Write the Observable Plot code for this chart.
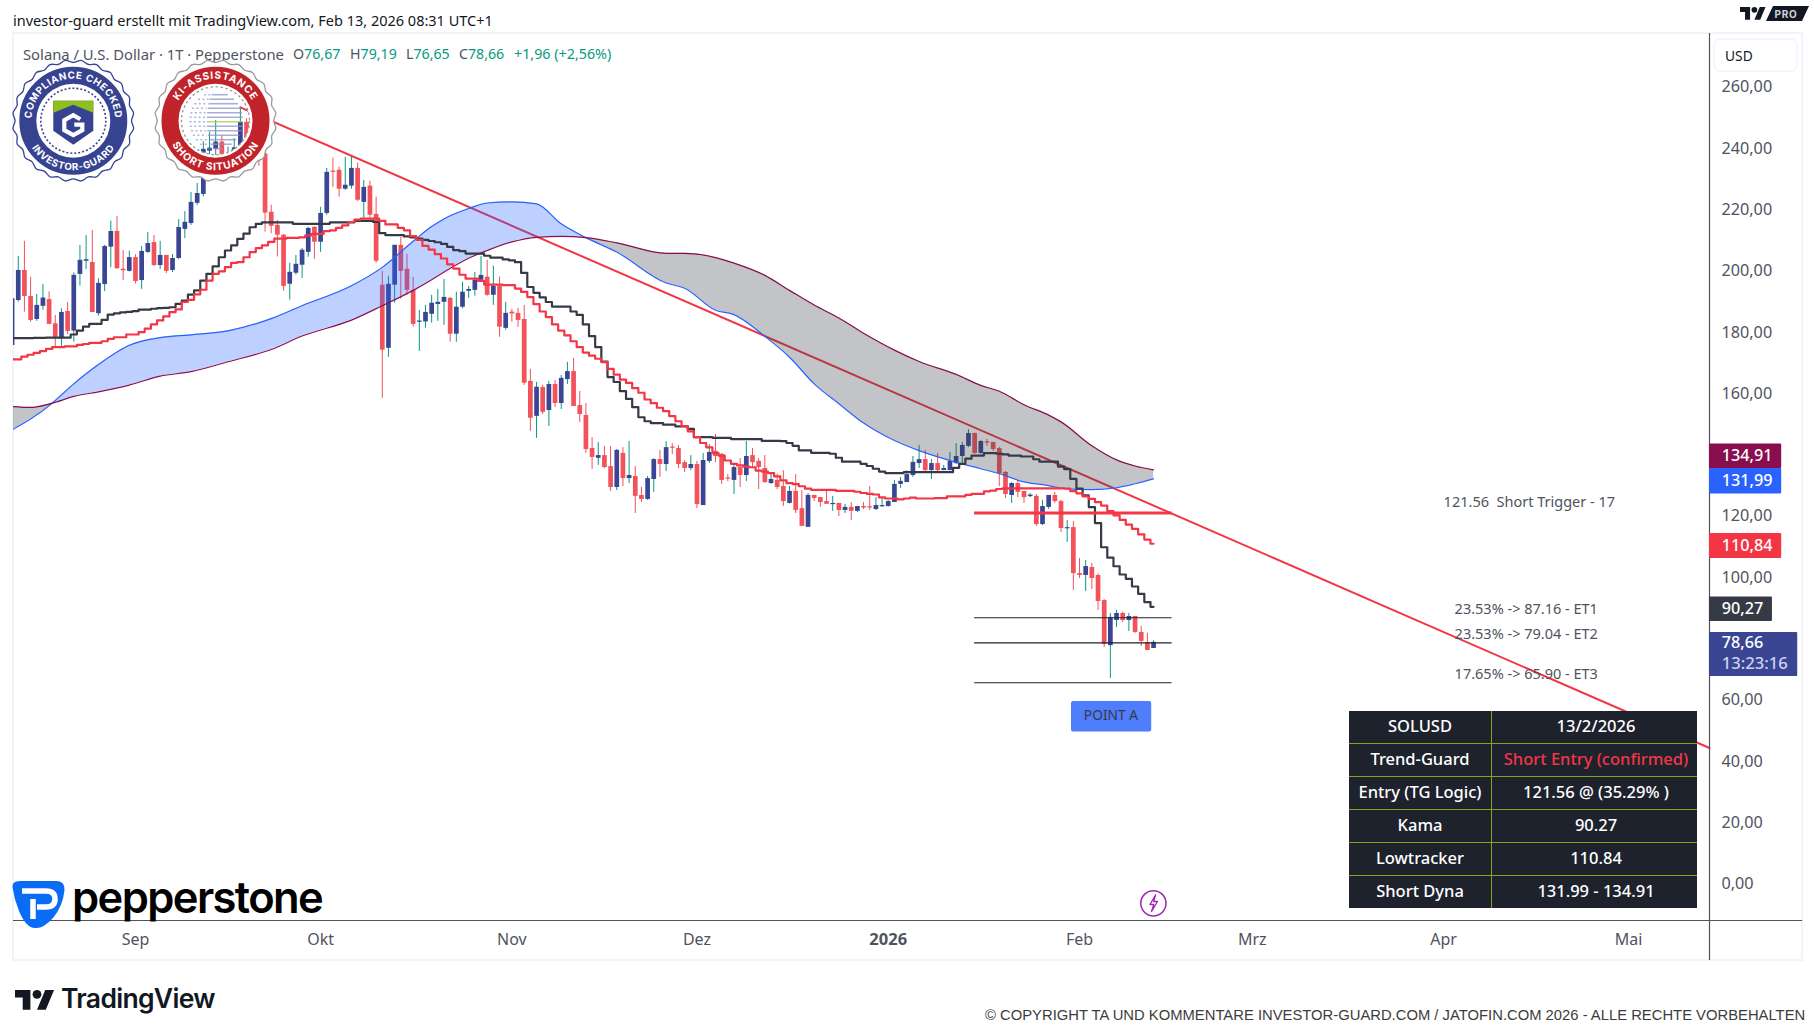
<!DOCTYPE html>
<html lang="de">
<head>
<meta charset="utf-8">
<title>Solana / U.S. Dollar</title>
<script src="https://cdn.jsdelivr.net/npm/d3@7"></script>
<script src="https://cdn.jsdelivr.net/npm/@observablehq/plot@0.6"></script>
<style>
html,body{margin:0;padding:0;background:#fff;}
#page{position:relative;width:1814px;height:1035px;overflow:hidden;font-family:"Noto Sans",sans-serif;}
#page svg{position:absolute;left:0;top:0;}
.t{position:absolute;white-space:pre;line-height:1;}
#tbl{position:absolute;left:1349px;top:711px;width:348px;height:197px;border-collapse:collapse;table-layout:fixed;background:#1e222d;color:#fff;font-size:16.5px;font-weight:500;}
#tbl td{border:1px solid #7fa61c;text-align:center;padding:0 0 4px 0;height:28px;}
#tbl td:last-child{padding-left:3px;}
#tbl tr:first-child td{border-top:none;}#tbl tr:last-child td{border-bottom:none;}
#tbl td:first-child{border-left:none;width:142px;}#tbl td:last-child{border-right:none;}
</style>
</head>
<body>
<div id="page"></div>
<script>
// --- candles: day offsets from 2025-09-01, first candle is offset -20 -----------------
const firstOffset = -20;
const opens = [175.5,190.2,200,191.5,184,188.3,190.5,182.6,177.7,186.6,
180.2,198.7,203,202.6,185.9,195.4,207.6,212.7,200.4,199.7,
204.2,196.7,205.9,209.1,201.6,204.9,200,203.9,213.4,215.3,
221.9,224.8,238.9,239.5,241.9,236.2,238,238.5,248.3,238.2,
245,238,219,214.7,211.5,195.5,199.1,201.7,205.9,214.1,
209.2,218.6,232.4,232.7,226.5,227.5,233.3,222.2,227.5,218.3,
195.2,174.6,195.2,208.2,200.4,193.5,183.1,183.2,185.7,188.9,
189.6,190.9,179.2,188,193.2,193.5,196.8,197.8,191.9,194.8,
181.1,186.4,186,184,163.8,152.4,161.8,154.3,162.8,156.6,
164.4,167,155.9,152.7,141.9,138.7,139.6,136,129.2,140.3,
132.1,132.8,126.6,125.3,131.8,138.3,136.7,142.4,141.9,137.3,
135.4,136.7,123.3,137.7,141,140,132.3,131.5,135.7,133.1,
139.6,137.7,135.4,130.5,131.5,129.5,124,127.9,122.3,116.2,
126.6,125.9,124.6,123.6,124,121.7,122.7,121.4,123,122.9,
122,122.9,123,124.3,130.2,130.8,133.1,137,138.3,134.7,
137,134.7,134.7,137,139.3,142.6,146.8,140.3,144.1,143.9,
141.9,134.1,126.6,130.5,127.9,126.2,126.3,117.1,122.7,126.6,
124.6,115.7,116.1,101.1,100.5,103.1,100.5,92.3,77.6,85.8,
88.1,85.8,87.1,81.9,78.6,76.67];
const closes = [190.8,200,191.5,183.7,188.6,191,182.4,178.2,186.3,180.1,
198.4,203.3,203.5,186.3,195.8,207.8,212.7,200.6,199.9,204.2,
196.4,206.2,208.8,201.6,204.9,199.7,203.9,214,215.7,222.2,
225.1,239.5,239.9,241.9,236.4,237.7,240,248.3,238.2,245,
238,218.7,214.4,211.5,194.8,199.4,202,206.6,213.7,209.2,
218.6,232,232,226.5,227.8,233.3,222.9,227.1,218,203,
174,195.5,208.2,199.7,193.5,182.4,183.5,186.3,189.3,189.6,
191.2,179.2,188,192.9,193.8,196.8,198.4,191.9,194.8,181.5,
186,185.8,183.7,163.2,151.8,161.9,153.7,162.8,156.6,164.8,
167,155.6,153,141.6,139,139.6,135.7,129.2,141.3,132.1,
133.1,126.3,125.3,132.1,138.3,136.7,142.2,142,136.7,135.4,
136.7,123.6,138,140.6,139.3,131.5,131.9,135.7,133.1,139.3,
137.3,135.7,130.8,131.8,129.2,124.6,127.9,121.7,116.5,126.6,
125.6,124.3,123.7,124,121.7,122.7,121.4,123,122.5,122.5,
123.3,123.3,124.6,130.2,131.2,133.4,137.4,138.3,134.7,137,
134.7,135.4,137.7,139.3,142.9,146.8,140.3,144.2,143.7,141.6,
133.7,126.9,130.5,127.6,125.9,126.7,117.1,123,126.6,124.6,
115.8,116.1,101.1,100.5,103.4,99.5,92,78,86.8,88.1,
85.8,87.1,81.9,79,76,78.66];
const highs = [192,204.6,209.5,197.8,192.2,195.4,193,185.3,187.5,189.6,
199.2,208.2,211.4,213,197.3,208.2,216.1,217.6,206.5,206.3,
205.1,207.8,212.4,211.4,209.5,204.9,205.2,216.6,219.2,225.4,
228.4,242,245,248.9,244,240.2,243,253.2,249.5,250,
247,245,221.3,216.4,211.8,202.3,204.9,207.2,214.1,214.2,
220.6,233.3,236.6,233.7,236.9,237.2,235,229.4,229.1,223.9,
199.7,198.1,208.2,210.8,205.3,197.8,187,188.6,191.9,193.8,
197.1,191.2,192.9,196.1,194.8,199.4,204.6,203.3,201.4,197.8,
189.6,187.3,187.6,188.6,167.7,163.5,162.5,163.8,164.1,165.7,
170,171.3,160.5,156.6,145.5,143.9,142.6,142.6,141.6,142.2,
144.2,136,129.2,132.8,138.6,141.3,144.2,143.5,142.9,138,
139.6,137.7,140.3,143.2,146.5,140.3,133.4,136.7,138.6,144.2,
141.9,138.6,139.6,133.5,133.6,134.7,129.5,133.4,128.2,127.2,
126.6,125.9,128.2,126.3,124,123.7,124.3,123,124.3,129.5,
125.9,125.9,125,131.5,132.5,134.7,139.3,142.9,141.3,138.3,
140.3,136.4,140.6,143.5,143.9,148.1,147,144.5,144.9,143.9,
142.3,134.4,130.8,131.5,127.9,127.2,126.9,125,126.6,127.6,
125,118.4,118.1,106,105.4,104.4,101,92.6,88.1,89.1,
88.5,88.1,87.1,83.9,81.6,79.19];
const lows = [175,189.7,186.4,183.1,183.4,187,182.4,175.2,175.2,179.1,
176.6,194.9,200.3,186.3,185.1,193.1,200.9,200.3,196.7,199.5,
195.6,193.8,205.5,201.3,200.3,199,199.3,203.6,210.4,214.7,
221.2,224,236,237,229.9,232,235,236,233,236,
234,212.5,212,204.4,193.2,190.3,198.5,197.4,204.3,203.6,
205.9,218,227.1,223.9,226.1,226.5,222.5,217,217,202.3,
158.3,171.7,189.3,190.6,191.9,181.5,173.6,181.1,182.8,183.4,
182.1,176.6,176.6,187.5,190.9,191.6,196.5,191.6,188.6,178.2,
180.5,183.1,181.4,162.5,147.5,145.2,153,149.1,155.3,154.6,
162.8,155.6,150.4,140.3,135.1,136.4,135.3,127.9,128.2,129.5,
130.5,120.7,124.3,125,127.6,132.5,134.4,139.9,135.4,134.1,
134.7,122.3,123.3,137,137.3,130.2,131.1,126.9,129.2,131.1,
135.7,128.5,130.5,130.2,128.5,123,123.8,120.7,116.5,116.2,
124.6,122.7,123.7,121.4,119.7,120.7,118.4,121,122,121.7,
121.7,122.7,122.8,124.3,128.9,130.8,132.5,135.4,134.1,131.8,
134.4,134.7,134.7,136.7,136.9,142.2,140,140,142.6,141,
129.5,125.6,124,125.9,124,125.9,116.5,116.8,122,124,
114.5,111.3,95.6,99.5,95.3,95.9,89.1,77,66.9,83.5,
85.1,82.2,81.6,77.3,76,76.65];

// --- indicator step lines, one value per candle ---------------------------------------
const kama = [177.9,177.9,177.9,177.9,178,178,178.1,178.1,178.1,178.1,
179.1,180.4,181.7,182.6,182.6,183.9,185.6,186,186.3,186.5,
186.7,187.2,187.2,187.5,187.7,187.8,188,189.1,190.2,192.1,
193.5,196.7,198.9,201.3,204.3,206.5,208.2,210.3,212,214.1,
215.2,215.7,215.7,215.7,215.7,215.7,215.2,215.2,215.2,215.2,
215.2,215.2,215.7,215.7,215.7,215.7,216.2,216.2,216.2,215.8,
212.2,211.5,211.5,211.5,211.1,210.8,210.4,210,209.6,209.2,
208.7,207.7,206.6,206.3,205.5,205.5,205.5,204.8,204.2,204.2,
203.6,203.3,202.7,199.2,194.6,192.7,191.2,189.7,188.2,188.2,
188.2,186.6,185.5,182.4,178.6,175,170.3,165.2,163.6,160.6,
158.1,155.4,152.1,150.8,150.2,150.2,149.7,149.7,149.1,149.1,
148.3,145.6,145.6,145.6,145.4,145.4,145.4,145,145,145,
145,145,144.4,144.4,144.4,144.3,143.7,142.8,141.3,141.3,
140.5,140.5,140.5,140.2,138.9,137.6,137.6,137.6,136.9,136.2,
135.3,134.4,133.9,133.9,133.9,134.2,134.2,134.2,134.2,134.2,
134.2,134.2,134.2,135.6,136.9,138.6,139.6,139.6,140.4,140.4,
140.2,140,139.6,139.6,139.3,139.3,138.4,137.6,137.6,137.6,
136,135.2,132,128.8,126.6,122.8,117.6,109.7,106.3,103.5,
100.8,99.4,96.9,94.5,91.8,90.27];
const lowtracker = [171,171,171.9,172.5,173.1,173.7,174.4,175,175,175.2,
175.2,175.7,176,176.4,176.4,176.9,177.7,178.2,178.2,179.1,
179.1,179.9,181,182.4,183.7,185,186.4,187.3,189.7,190.4,
192.2,193.7,196.7,198.9,199.7,201.1,202.5,202.7,204.3,206,
207.3,208.2,209.3,210.4,210.4,210.6,210.6,210.8,211.4,211.9,
211.9,212.8,213.1,213.9,214.7,215.8,216.6,216.9,216.9,216.9,
216.2,215,215,213.9,213.1,211.2,210,208,206.8,205.3,
203.9,202,200.6,198.6,197.3,197.3,196.6,195.4,195.4,195.4,
195.2,195.2,194.1,193,191.3,189,186.6,184.8,182.4,180.4,
178.8,176.9,175,173.2,172.2,171.2,170.1,167.9,166,164.4,
163.3,161.6,160.1,157.9,156.7,155.2,154.1,152.5,150.8,149.2,
147.5,145.6,143.7,142.3,140.4,139.6,138,136.9,136.4,136,
135.8,134.7,134.4,133.9,132.8,131.5,130.6,130.3,129.6,128.8,
128.4,128.4,128.4,128.4,128.1,128.1,128.1,127.8,127.4,127.1,
126.9,126,125.6,125.6,125.3,125.6,125.9,125.6,125.6,125.6,
125.7,125.7,126.3,126.3,126.3,126.8,127.1,127.1,127.9,128.2,
128.7,128.9,128.9,128.9,128.9,128.9,128.9,128.9,128.9,128.9,
128.9,128.8,128,127.3,126.3,125.5,124.4,123.3,121.5,120.1,
118.6,117.1,115.7,113.9,112.2,110.84];

// --- Short Dyna cloud, read at these day offsets --------------------------------------
const bandDays = [-20,-17,-13.5,-10,-6,-1,4,9,15,22,27,35,40,45,48,50,54,57,61,65,69,73,78,86,89,94,97,102,106,110,114,118,123,127,133,137,140,144,148,150,155,159,162,165];
const bandBlue = [148,151.5,156.7,163,169.3,175.6,178.1,179,180.3,184.3,188.5,195,201,209.5,214.3,216.8,220.2,222,222.4,221.7,215.2,210.7,206,195.9,194.2,187,185.6,178.5,171.7,163,156.5,150.2,144.5,141.2,137.4,135.3,133.7,131,129.8,129,128.5,129.1,130.4,131.99];
const bandPurple = [155.6,155.3,156.7,158.9,160.4,162.6,165.5,167,170.2,174.2,178.6,183.8,188.5,193.5,197,199.5,204,206.5,209.3,210.8,211.1,210.7,209,205.6,205.6,204.2,202.4,198.4,193.5,188.7,184.5,179.5,174,170.3,166.1,162.5,160.6,156.2,152.8,150.6,142.8,138.2,136.2,134.91];

// --- drawn lines ----------------------------------------------------------------------
const trendDays = [17, 255.1];
const trendPrices = [253.2, 44.2];
const levelStart = 136, levelEnd = 168;
const blackLevels = [86.7, 78.5, 65.5];
const triggerLevel = 120.9;

// --- labels and tags ------------------------------------------------------------------
const levelTexts = ["121.56  Short Trigger - 17","23.53% -> 87.16 - ET1","23.53% -> 79.04 - ET2","17.65% -> 65.90 - ET3"];
const levelTextPrices = [124.2,89.5,81.3,68.3];
const levelTextDays = [225.9,225.4,225.4,225.4];
const priceTicks = [0,20,40,60,100,120,160,180,200,220,240,260];
const monthLabels = ["Sep","Okt","Nov","Dez","Feb","Mrz","Apr","Mai"];
const monthStarts = ["2025-09-01","2025-10-01","2025-11-01","2025-12-01","2026-02-01","2026-03-01","2026-04-01","2026-05-01"];
const tagTexts = ["134,91","131,99","110,84","90,27","78,66"];
const tagTop = [143.4,135.4,114.2,93.5,81.9];
const tagBottom = [135.4,127.1,106,85.5,67.5];
const tagRight = [266.8,266.8,266.8,265.3,269.4];
const tagColors = ["#880e4f","#2962ff","#f23645","#363a45","#3a4694"];
const tableRows = [["SOLUSD","13/2/2026"],["Trend-Guard","Short Entry (confirmed)"],["Entry (TG Logic)","121.56 @ (35.29% )"],["Kama","90.27"],["Lowtracker","110.84"],["Short Dyna","131.99 - 134.91"]];

const fmt = d3.format(".2f");
const de = v => fmt(v).replace(".", ",");
const day = n => new Date(Date.UTC(2025, 8, 1) + n * 864e5);
const idx = d3.range(opens.length);
const dateOf = i => day(firstOffset + i);
const bandIdx = d3.range(bandDays.length);
const up = i => closes[i] >= opens[i];

const AXIS_X = 255.1, LEFT = -19.77, FRAME_R = 270.2, TOP = 277.3, BOT = -25.1, AXIS_Y = -12.07;
const cloudBlue = bandIdx.filter(i => bandDays[i] <= 73 && bandDays[i] >= -13.5);
const cloudGreyA = bandIdx.filter(i => bandDays[i] <= -13.5);
const cloudGreyB = bandIdx.filter(i => bandDays[i] >= 73);
const area = (ids, fill) => Plot.areaY(ids, {x: i => day(bandDays[i]), y1: i => bandBlue[i], y2: i => bandPurple[i], fill, fillOpacity: 0.3, curve: "monotone-x", clip: true});

const chart = Plot.plot({
  width: 1814, height: 1035,
  marginLeft: 13, marginRight: 105, marginTop: 33, marginBottom: 115,
  style: {fontFamily: '"Noto Sans",sans-serif', background: "transparent", color: "#50535e", overflow: "visible"},
  x: {type: "utc", domain: [day(LEFT), day(AXIS_X)]},
  y: {domain: [AXIS_Y, TOP]},
  marks: [
    Plot.rect([0], {x1: () => day(LEFT), x2: () => day(FRAME_R), y1: () => BOT, y2: () => TOP, fill: "none", stroke: "#f0f3fa", strokeWidth: 2}),
    Plot.ruleX(idx, {x: dateOf, y1: i => lows[i], y2: i => highs[i], stroke: i => up(i) ? "#089981" : "#f2525a", strokeWidth: 1, clip: true}),
    Plot.ruleX(idx, {x: dateOf, y1: i => opens[i], y2: i => closes[i], stroke: i => up(i) ? "#3a4694" : "#f2525a", strokeWidth: 4.7, clip: true}),
    Plot.line(trendDays, {x: d => day(d), y: (d, i) => trendPrices[i], stroke: "#f23645", strokeWidth: 2}),
    area(cloudGreyA, "#363a45"), area(cloudBlue, "#2962ff"), area(cloudGreyB, "#363a45"),
    Plot.line(bandIdx, {x: i => day(bandDays[i]), y: i => bandBlue[i], stroke: "#2962ff", strokeWidth: 1.2, curve: "monotone-x", clip: true}),
    Plot.line(bandIdx, {x: i => day(bandDays[i]), y: i => bandPurple[i], stroke: "#880e4f", strokeWidth: 1.2, curve: "monotone-x", clip: true}),
    Plot.line(idx, {x: dateOf, y: i => kama[i], stroke: "#363a45", strokeWidth: 2.2, curve: "step", clip: true}),
    Plot.line(idx, {x: dateOf, y: i => lowtracker[i], stroke: "#f23645", strokeWidth: 2.2, curve: "step", clip: true}),
    Plot.ruleY([triggerLevel], {x1: () => day(levelStart), x2: () => day(levelEnd), stroke: "#f23645", strokeWidth: 3}),
    Plot.ruleY(blackLevels, {x1: () => day(levelStart), x2: () => day(levelEnd), stroke: "#1e222d", strokeWidth: 1.2}),
    Plot.text(levelTexts, {x: (d, i) => day(levelTextDays[i]), y: (d, i) => levelTextPrices[i], text: d => d, fontSize: 14.5, fill: "#50535e"}),
    Plot.rect([0], {x1: () => day(151.7), x2: () => day(164.7), y1: () => 49.4, y2: () => 59.4, fill: "#4f7dfb", rx: 2}),
    Plot.text(["POINT A"], {x: () => day(158.1), y: () => 54.8, text: d => d, fontSize: 13.8, fill: "#363a45"}),
    Plot.ruleX([AXIS_X], {x: d => day(d), y1: () => BOT, y2: () => TOP, stroke: "#50535e", strokeWidth: 1.2}),
    Plot.ruleY([AXIS_Y], {x1: () => day(LEFT), x2: () => day(FRAME_R), stroke: "#50535e", strokeWidth: 1.2}),
    Plot.axisY({anchor: "right", ticks: priceTicks, tickSize: 0, tickPadding: 12, tickFormat: de, fontSize: 16.2, dy: 0.6, label: null}),
    Plot.axisX({anchor: "bottom", ticks: monthStarts.map(d => new Date(d)), tickFormat: d => monthLabels[monthStarts.indexOf(d.toISOString().slice(0,10))], tickSize: 0, tickPadding: 13, fontSize: 16, label: null}),
    Plot.axisX({anchor: "bottom", ticks: [new Date("2026-01-01")], tickFormat: () => "2026", tickSize: 0, tickPadding: 13, fontSize: 16.5, fontWeight: 700, label: null}),
    Plot.rect(tagTexts, {x1: () => day(AXIS_X), x2: (d, i) => day(tagRight[i]), y1: (d, i) => tagBottom[i], y2: (d, i) => tagTop[i], fill: (d, i) => tagColors[i], rx: 1}),
    Plot.text(tagTexts, {x: () => day(257.1), y: (d, i) => i === 4 ? 78.4 : (tagTop[i] + tagBottom[i]) / 2, text: d => d, textAnchor: "start", fill: "#fff", fontSize: 16.2, fontWeight: 500}),
    Plot.text(["13:23:16"], {x: () => day(257.1), y: () => 71.6, text: d => d, textAnchor: "start", fill: "#cdd2ee", fontSize: 16.6, fontWeight: 500})
  ]
});
const page = document.getElementById("page");
page.appendChild(chart);

// --- page furniture: real text around the chart ---------------------------------------
function label(text, x, y, size, color, extra) {
  const el = document.createElement("div");
  el.className = "t";
  el.textContent = text;
  Object.assign(el.style, {left: x + "px", top: y + "px", fontSize: size + "px", color}, extra || {});
  page.appendChild(el);
  return el;
}
label("investor-guard erstellt mit TradingView.com, Feb 13, 2026 08:31 UTC+1", 13, 12.5, 14.5, "#131722");
label("Solana / U.S. Dollar · 1T · Pepperstone", 23, 46.5, 14.8, "#50535e");
[["O","76,67",293],["H","79,19",350],["L","76,65",406],["C","78,66",459]].forEach(([a, v, x]) => {
  const el = label(a, x, 46.5, 14.2, "#50535e");
  const s = document.createElement("span"); s.textContent = v; s.style.color = "#089981"; el.appendChild(s);
});
label("+1,96 (+2,56%)", 514, 46.5, 14.3, "#089981");
label("USD", 1725, 48.5, 13.8, "#131722");
label("pepperstone", 72, 875.5, 43.5, "#000", {fontFamily: "Inter,sans-serif", fontWeight: 600, letterSpacing: "-1.6px", zIndex: 4});
label("TradingView", 61, 984.5, 26.5, "#131722", {fontFamily: "Inter,sans-serif", fontWeight: 600, letterSpacing: "-0.7px"});
label("© COPYRIGHT TA UND KOMMENTARE INVESTOR-GUARD.COM / JATOFIN.COM 2026 - ALLE RECHTE VORBEHALTEN", 985, 1008, 14.8, "#3c3c3c", {fontFamily: '"Liberation Sans",sans-serif'});

const table = document.createElement("table");
table.id = "tbl";
tableRows.forEach((row, r) => {
  const tr = table.insertRow();
  row.forEach((c, k) => {
    const td = tr.insertCell(); td.textContent = c;
    if (r === 1 && k === 1) td.style.color = "#f23645";
  });
});
page.appendChild(table);

// --- decorative overlay: badges and logos ---------------------------------------------
function scallop(cx, cy, r, amp, n) {
  return d3.line().curve(d3.curveCardinalClosed)(d3.range(n * 2).map(i => {
    const a = i / (n * 2) * 2 * Math.PI, rr = r + (i % 2 ? amp : -amp);
    return [cx + rr * Math.cos(a), cy + rr * Math.sin(a)];
  }));
}
const circleCW = (cx, cy, r) => `M${cx},${cy + r} A${r},${r} 0 1 1 ${cx},${cy - r} A${r},${r} 0 1 1 ${cx},${cy + r}`;
const circleCCW = (cx, cy, r) => `M${cx},${cy - r} A${r},${r} 0 1 0 ${cx},${cy + r} A${r},${r} 0 1 0 ${cx},${cy - r}`;
const ringText = (cx, cy, rt, rb, top, bot, fs, ls, id) => `
  <path id="${id}t" d="${circleCW(cx, cy, rt)}" fill="none"/><path id="${id}b" d="${circleCCW(cx, cy, rb)}" fill="none"/>
  <text font-family="Inter,sans-serif" font-weight="700" font-size="${fs}" fill="#fff" letter-spacing="${ls}" text-anchor="middle"><textPath href="#${id}t" startOffset="50%">${top}</textPath></text>
  <text font-family="Inter,sans-serif" font-weight="700" font-size="${fs}" fill="#fff" letter-spacing="${ls}" text-anchor="middle"><textPath href="#${id}b" startOffset="50%">${bot}</textPath></text>`;
const gx = 73.3, gy = 120.7, rx = 215.5, ry = 120.7;
const ringR = 45.5, ringW = 17;
let stripes = "";
for (let k = -26; k <= 30; k += 4.5) {
  const half = Math.sqrt(Math.max(0, 29 * 29 - k * k));
  stripes += `<line x1="${rx - half * 0.3}" x2="${rx + half * 0.95}" y1="${ry + k}" y2="${ry + k}" stroke="${Math.abs(k - 0.5) < 1 ? '#a8c84a' : '#8e95cc'}" stroke-width="1.6" opacity=".75"/>`;
  stripes += `<line x1="${rx - half * 0.9}" x2="${rx - half * 0.35}" y1="${ry + k}" y2="${ry + k}" stroke="#8e95cc" stroke-width="1.4" stroke-dasharray="2 2.5" opacity=".7"/>`;
}
const overlay = d3.create("div").style("position", "absolute").style("left", 0).style("top", 0).html(`
<svg width="1814" height="1035" viewBox="0 0 1814 1035" xmlns="http://www.w3.org/2000/svg">
  <path d="${scallop(gx, gy, 59.5, 1.3, 24)}" fill="#fff" stroke="#364391" stroke-width="1.3"/>
  <circle cx="${gx}" cy="${gy}" r="${ringR}" fill="none" stroke="#364391" stroke-width="${ringW}"/>
  <circle cx="${gx}" cy="${gy}" r="32.5" fill="none" stroke="#364391" stroke-width="1.6" stroke-dasharray="2 2"/>
  ${ringText(gx, gy, 42, 49.5, "COMPLIANCE CHECKED", "INVESTOR-GUARD", 9.8, 0.6, "ga")}
  <path d="M${gx-20},${gy-20} h40 v30 l-20,14 l-20,-14 z" fill="#364391"/>
  <path d="M${gx-20},${gy-20} h40 v12 l-20,-8 l-20,8 z" fill="#8fbf1a"/>
  <path d="M${gx+7},${gy-1.5} L${gx},${gy-5.5} L${gx-9},${gy-0.5} V${gy+9.5} L${gx},${gy+14.5} L${gx+9},${gy+9.5} V${gy+4} H${gx+1}" fill="none" stroke="#fff" stroke-width="4.2"/>
  <path fill-rule="evenodd" d="${scallop(rx, ry, 59.5, 1.3, 24)} M${rx-34},${ry} a34,34 0 1 0 68,0 a34,34 0 1 0 -68,0 z" fill="#fff"/>
  <path d="${scallop(rx, ry, 59.5, 1.3, 24)}" fill="none" stroke="#9a9a9a" stroke-width="1.3"/>
  <circle cx="${rx}" cy="${ry}" r="${ringR}" fill="none" stroke="#c1232b" stroke-width="${ringW}"/>
  <circle cx="${rx}" cy="${ry}" r="34" fill="none" stroke="#9a9a9a" stroke-width="1.3" stroke-dasharray="2.5 2.5"/>
  ${stripes}
  ${ringText(rx, ry, 42, 49.5, "KI-ASSISTANCE", "SHORT SITUATION", 10.2, 0.8, "ra")}
  <path d="M12.5,887 Q12,881 20,881 L56,881 Q65,881 64.5,890 Q63,906 53,918 Q43,929 35,928 Q26,928 19,911 Q14,899 12.5,887 Z" fill="#0a6cf5"/>
  <path d="M22,891 h24 q9,0 9,8 q0,8 -9,8 h-9 M33,899 v20" fill="none" stroke="#fff" stroke-width="5.5"/>
  <g transform="translate(15,985.5) scale(1.1)"><path d="M14 22H7V11H0V4h14v18zM28 22h-8l7.5-18h8L28 22z" fill="#131722"/><circle cx="20" cy="8" r="4" fill="#131722"/></g>
  <g transform="translate(1740,4) scale(0.72)"><path d="M14 22H7V11H0V4h14v18zM28 22h-8l7.5-18h8L28 22z" fill="#131722"/><circle cx="20" cy="8" r="4" fill="#131722"/></g>
  <path d="M1772,6 h36 l-7,15 h-36 z" fill="#131722" transform="translate(1)"/>
  <text x="1786" y="17.5" text-anchor="middle" font-family="Inter,sans-serif" font-weight="700" font-size="10" letter-spacing=".8" fill="#d1d4dc">PRO</text>
  <rect x="1714" y="39" width="83" height="32" rx="6" fill="none" stroke="#f0f3fa" stroke-width="1.3"/>
  <circle cx="1153.4" cy="903.3" r="12.6" fill="none" stroke="#9c27b0" stroke-width="1.5"/>
  <path d="M1155.5,895 l-5.5,9.5 h3.8 l-2.3,7 l6,-10 h-3.8 z" fill="none" stroke="#9c27b0" stroke-width="1.3" stroke-linejoin="round"/>
</svg>`);
page.appendChild(overlay.node());
</script>
</body>
</html>
